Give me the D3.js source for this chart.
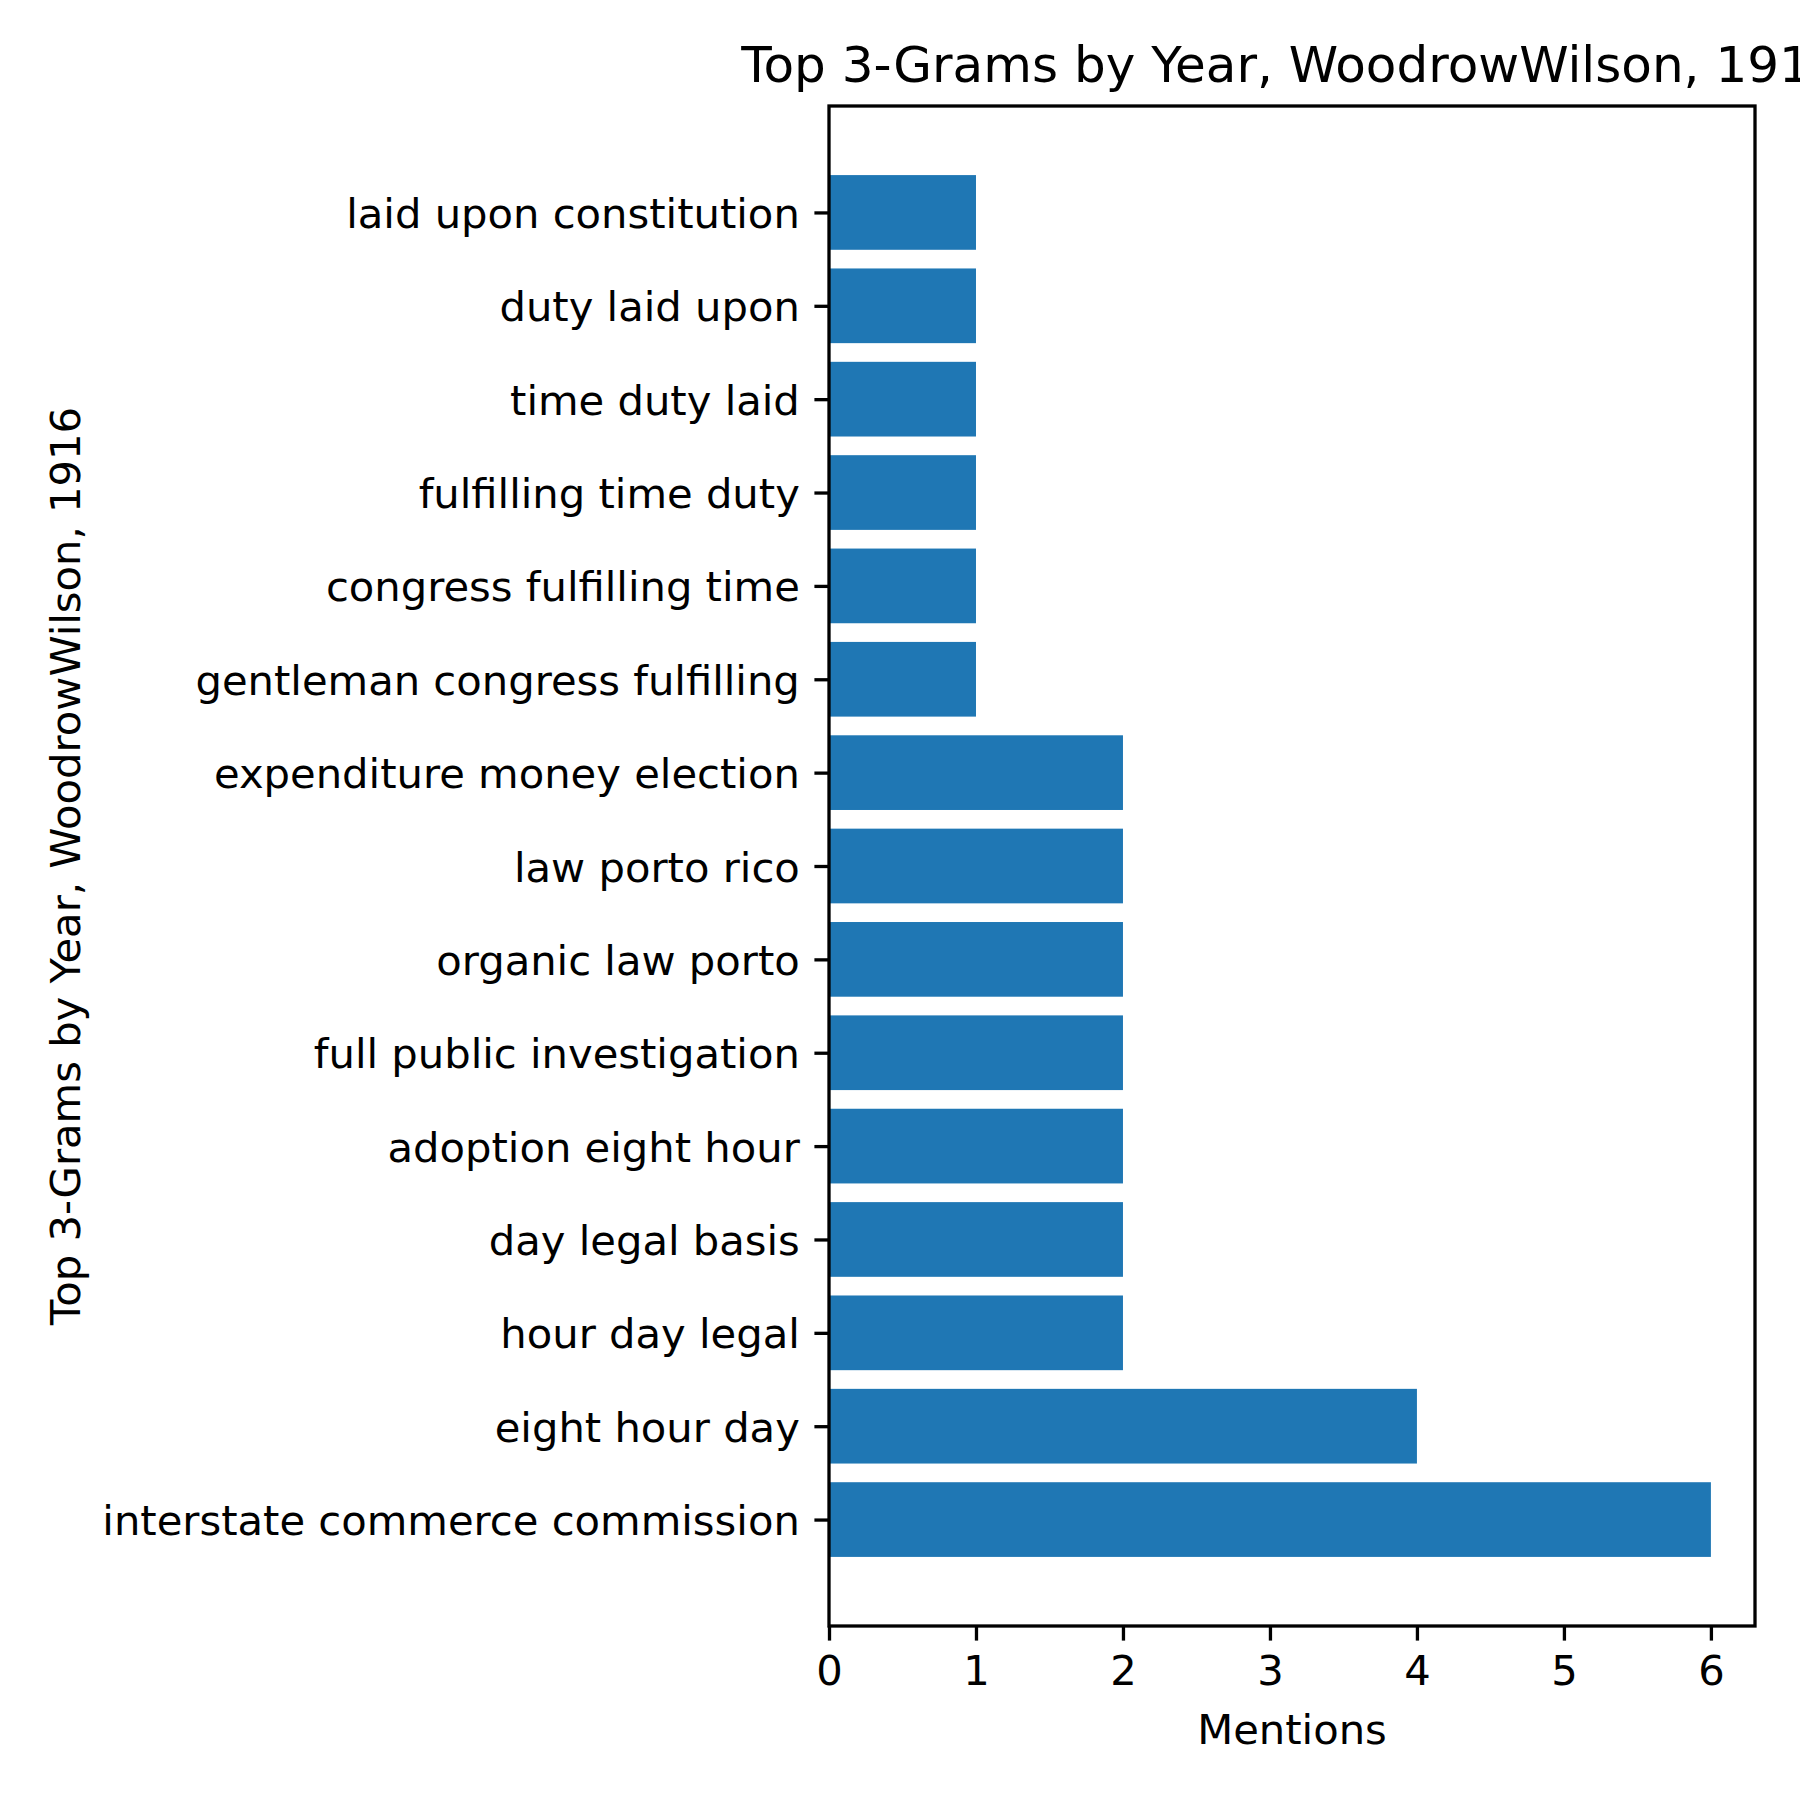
<!DOCTYPE html>
<html>
<head>
<meta charset="utf-8">
<script src="https://cdn.jsdelivr.net/npm/d3@7"></script>
<style>
  body { margin: 0; background: #fff; }
  text { font-family: "DejaVu Sans", sans-serif; fill: #000; }
</style>
</head>
<body>
<div id="chart"></div>
<script>
// bottom to top, as matplotlib barh draws them
const grams = [
  "interstate commerce commission",
  "eight hour day",
  "hour day legal",
  "day legal basis",
  "adoption eight hour",
  "full public investigation",
  "organic law porto",
  "law porto rico",
  "expenditure money election",
  "gentleman congress fulfilling",
  "congress fulfilling time",
  "fulfilling time duty",
  "time duty laid",
  "duty laid upon",
  "laid upon constitution"
];
const mentions = [6, 4, 2, 2, 2, 2, 2, 2, 2, 1, 1, 1, 1, 1, 1];
const xTicks = [0, 1, 2, 3, 4, 5, 6];
const titleText = "Top 3-Grams by Year, WoodrowWilson, 1916";

const width = 1800;
const height = 1800;
const margin = { left: 829, right: 45, top: 106, bottom: 174 };
const innerW = width - margin.left - margin.right;
const innerH = height - margin.top - margin.bottom;

const fontSize = 41.7;
const tickLen = 14.6;
const lw = 3.3;

const svg = d3.select("#chart").append("svg")
  .attr("width", width)
  .attr("height", height);

const barH = 0.8;
const n = grams.length;
const pad = (n - 1 + barH) * 0.05;

const x = d3.scaleLinear()
  .domain([0, d3.max(mentions) * 1.05])
  .range([0, innerW]);

const y = d3.scaleLinear()
  .domain([-barH / 2 - pad, n - 1 + barH / 2 + pad])
  .range([innerH, 0]);

const g = svg.append("g")
  .attr("transform", `translate(${margin.left},${margin.top})`);

g.selectAll("rect.bar")
  .data(mentions)
  .join("rect")
  .attr("class", "bar")
  .attr("x", x(0))
  .attr("y", (d, i) => y(i + barH / 2))
  .attr("width", d => x(d) - x(0))
  .attr("height", (d, i) => y(i - barH / 2) - y(i + barH / 2))
  .attr("fill", "#1f77b4");

// axes
const xAxis = g.append("g")
  .attr("transform", `translate(0,${innerH})`)
  .call(d3.axisBottom(x).tickValues(xTicks).tickFormat(d3.format("d"))
    .tickSize(tickLen).tickPadding(tickLen));

const yAxis = g.append("g")
  .call(d3.axisLeft(y).tickValues(d3.range(n)).tickFormat(i => grams[i])
    .tickSize(tickLen).tickPadding(tickLen));

[xAxis, yAxis].forEach(a => {
  a.select(".domain").remove();
  a.selectAll(".tick line").attr("stroke", "#000").attr("stroke-width", lw);
  a.selectAll(".tick text")
    .attr("font-size", fontSize)
    .attr("font-family", "DejaVu Sans, sans-serif")
    .attr("fill", "#000");
});
yAxis.selectAll(".tick text").attr("dy", "0.36em");

// frame
g.append("rect")
  .attr("x", 0).attr("y", 0)
  .attr("width", innerW).attr("height", innerH)
  .attr("fill", "none")
  .attr("stroke", "#000")
  .attr("stroke-width", lw);

// labels
g.append("text")
  .attr("x", innerW / 2)
  .attr("y", innerH + 118)
  .attr("text-anchor", "middle")
  .attr("font-size", fontSize)
  .text("Mentions");

svg.append("text")
  .attr("transform", `translate(65,${margin.top + innerH / 2}) rotate(-90)`)
  .attr("text-anchor", "middle")
  .attr("dy", "0.35em")
  .attr("font-size", fontSize)
  .text(titleText);

svg.append("text")
  .attr("x", margin.left + innerW / 2)
  .attr("y", margin.top - 24)
  .attr("text-anchor", "middle")
  .attr("font-size", 50)
  .text(titleText);
</script>
</body>
</html>
